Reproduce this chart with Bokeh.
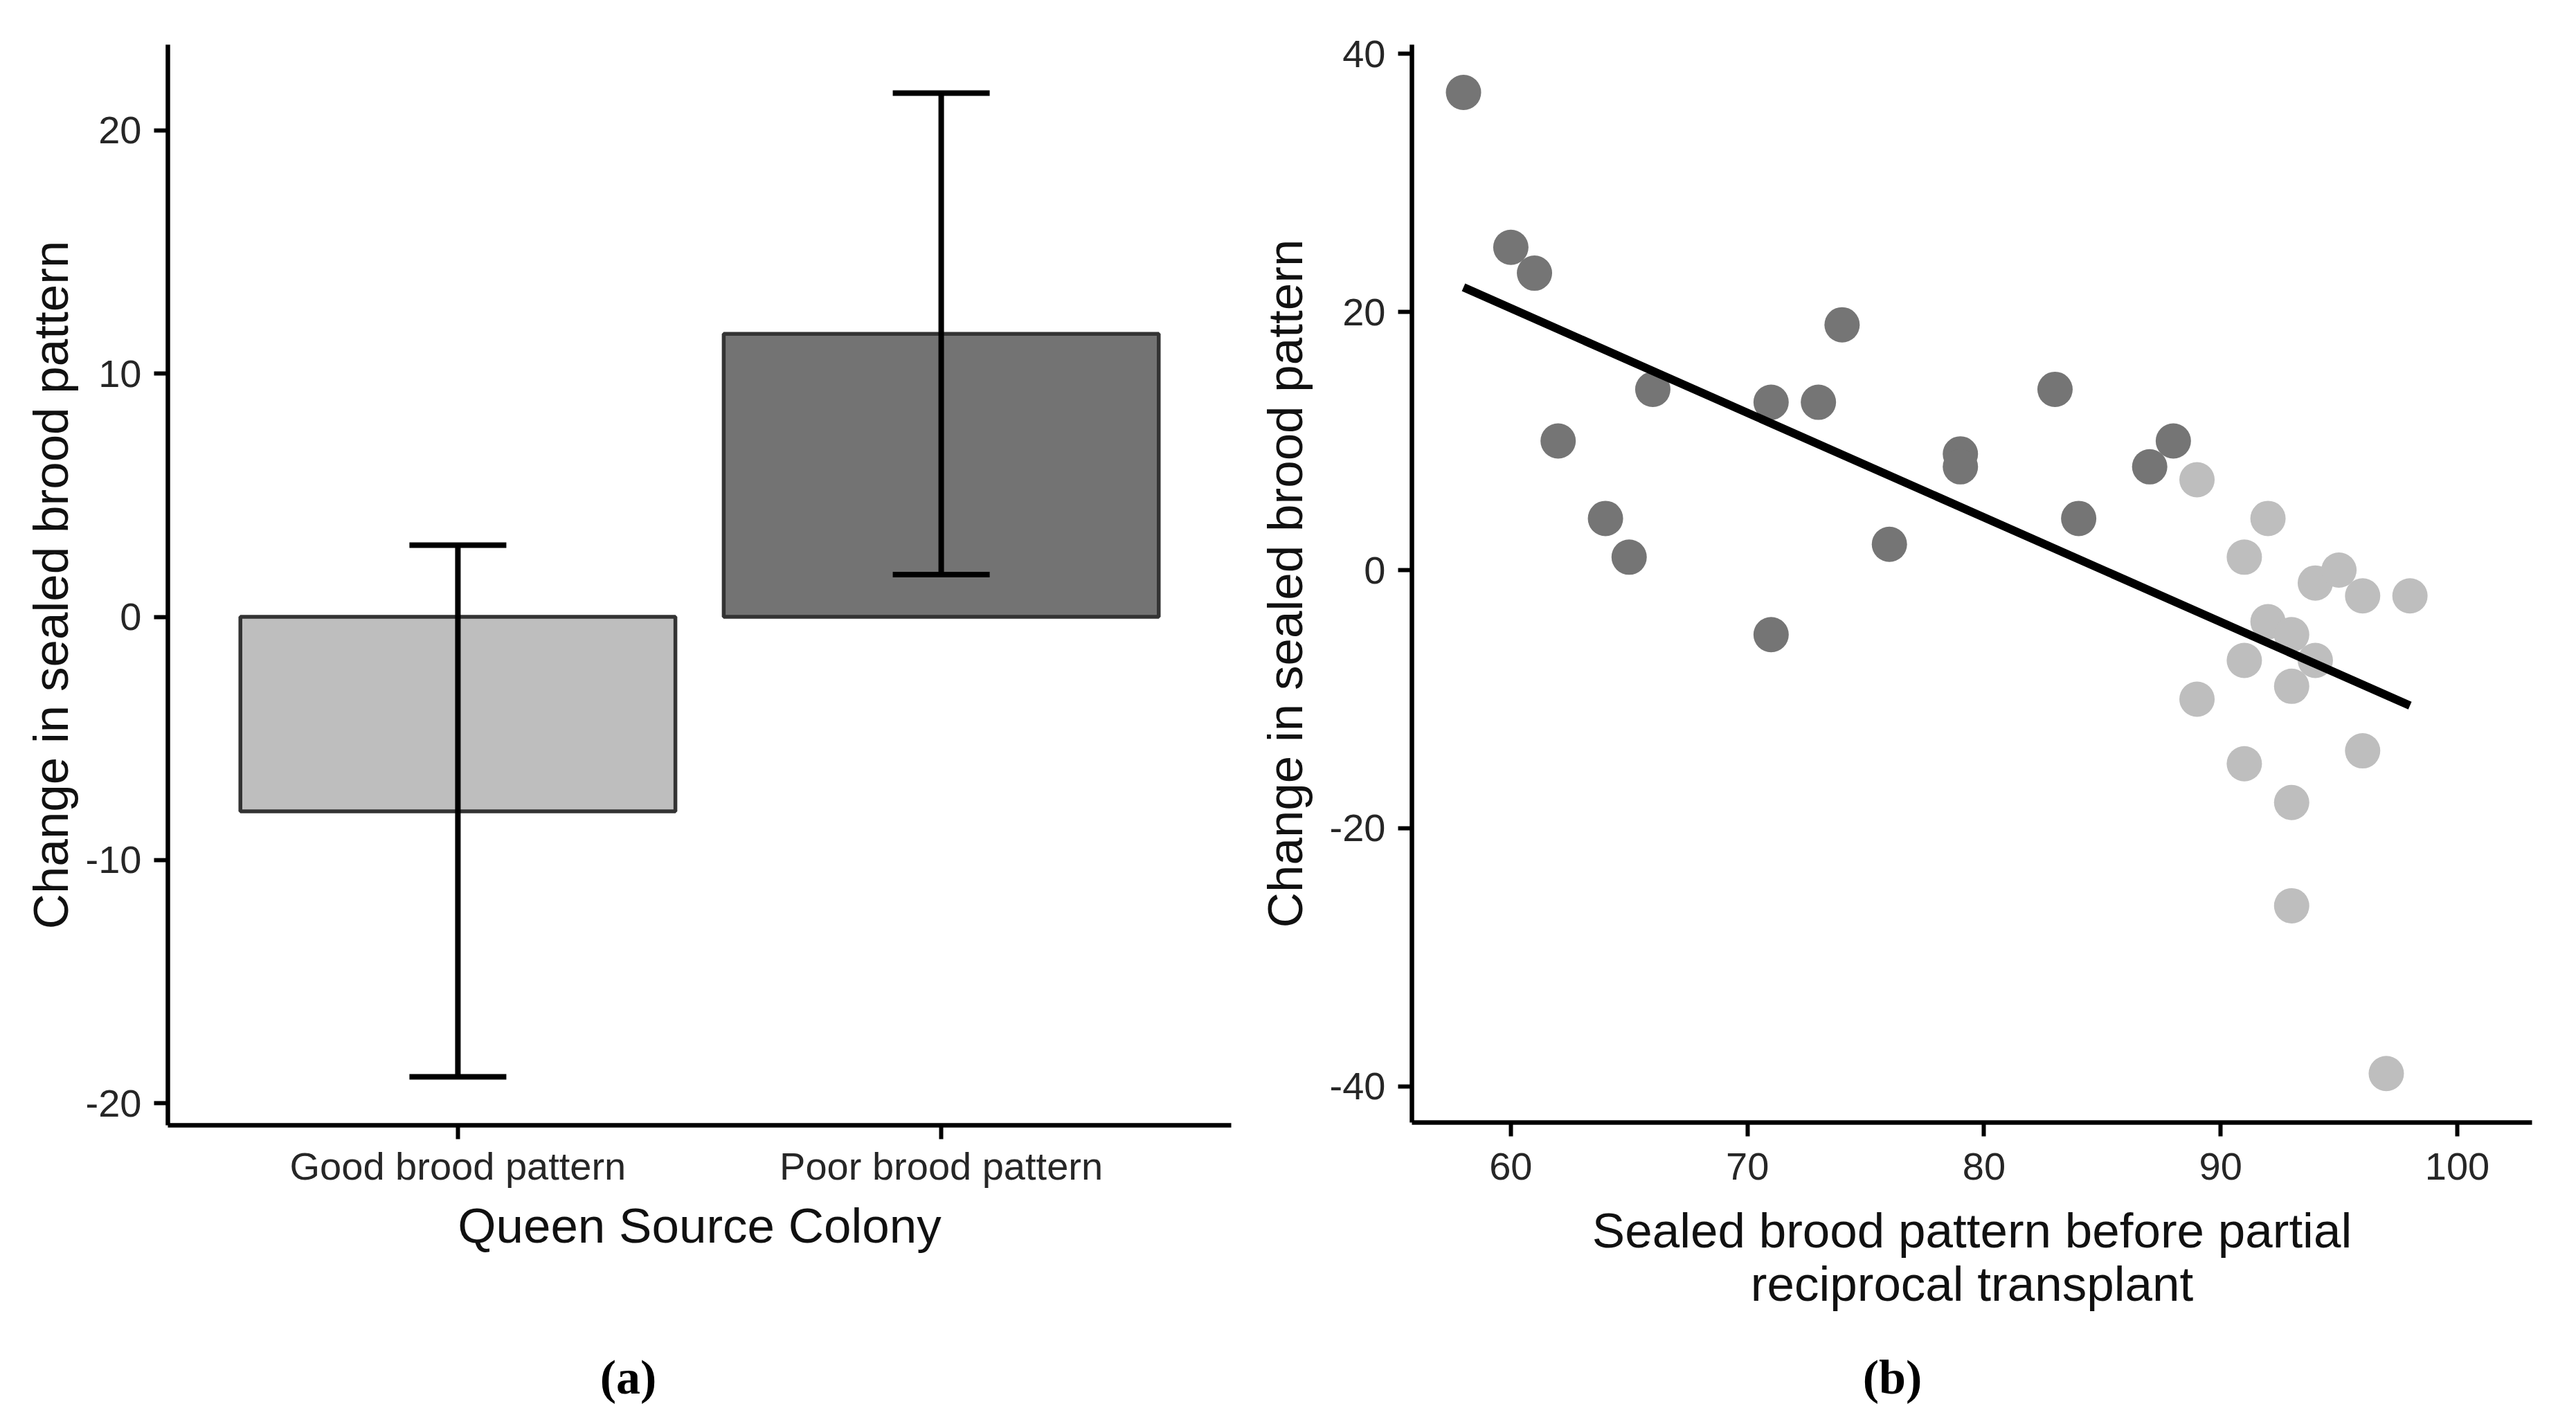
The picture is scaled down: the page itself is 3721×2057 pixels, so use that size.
from bokeh.plotting import figure
from bokeh.models import (ColumnDataSource, FactorRange, Range1d, FixedTicker,
                          Whisker, TeeHead, Label)
from bokeh.layouts import row, column
from bokeh.embed import file_html
from bokeh.resources import INLINE

# ---------------- data ----------------
categories = ["Good brood pattern", "Poor brood pattern"]
bar_means = [-8.0, 11.64]
bar_upper = [2.95, 21.54]
bar_lower = [-18.92, 1.74]
bar_colors = ["#bebebe", "#737373"]

dark_x = [58, 60, 61, 62, 64, 65, 66, 71, 71, 73, 74, 76, 79, 79, 83, 84, 87, 88]
dark_y = [37, 25, 23, 10, 4, 1, 14, 13, -5, 13, 19, 2, 9, 8, 14, 4, 8, 10]
light_x = [89, 89, 91, 91, 91, 92, 92, 93, 93, 93, 93, 94, 94, 95, 96, 96, 97, 98]
light_y = [7, -10, 1, -7, -15, 4, -4, -5, -9, -18, -26, -1, -7, 0, -2, -14, -39, -2]
fit_x = [58, 98]
fit_y = [21.9, -10.5]

left_yticks = [-20, -10, 0, 10, 20]
right_xticks = [60, 70, 80, 90, 100]
right_yticks = [-40, -20, 0, 20, 40]

FONT = "Liberation Sans"
TICK_SIZE = "56px"
TITLE_SIZE = "71px"
TICK_COLOR = "#262626"
TITLE_COLOR = "#111111"


def hyphen_labels(ticks):
    return {t: str(t) for t in ticks}


def style_axes(p):
    p.xgrid.visible = False
    p.ygrid.visible = False
    p.outline_line_color = None
    p.background_fill_color = "white"
    p.border_fill_color = "white"
    for ax in (p.xaxis[0], p.yaxis[0]):
        ax.axis_line_color = "black"
        ax.axis_line_width = 6.5
        ax.major_tick_line_color = "black"
        ax.major_tick_line_width = 6
        ax.major_tick_in = 0
        ax.major_tick_out = 20
        ax.minor_tick_line_color = None
        ax.major_label_text_font = FONT
        ax.major_label_text_font_size = TICK_SIZE
        ax.major_label_text_color = TICK_COLOR
        ax.axis_label_text_font = FONT
        ax.axis_label_text_font_size = TITLE_SIZE
        ax.axis_label_text_font_style = "normal"
        ax.axis_label_text_color = TITLE_COLOR
    p.yaxis[0].major_label_standoff = 18


# ---------------- panel (a) ----------------
src_a = ColumnDataSource(dict(cat=categories, mean=bar_means, upper=bar_upper,
                              lower=bar_lower, color=bar_colors))

pa = figure(x_range=FactorRange(*categories, range_padding=0.1,
                                range_padding_units="absolute"),
            y_range=Range1d(-20.91, 23.53),
            frame_width=1536, frame_height=1561,
            min_border_left=242, min_border_right=31,
            min_border_top=60, min_border_bottom=330,
            output_backend="svg", toolbar_location=None)
pa.vbar(x="cat", top="mean", bottom=0, width=0.9, source=src_a,
        fill_color="color", line_color="#333333", line_width=5.5)
pa.add_layout(Whisker(base="cat", upper="upper", lower="lower", source=src_a,
                      dimension="height", line_color="black", line_width=8,
                      level="overlay",
                      upper_head=TeeHead(size=140, line_width=8, line_color="black"),
                      lower_head=TeeHead(size=140, line_width=8, line_color="black")))
style_axes(pa)
pa.yaxis[0].ticker = FixedTicker(ticks=left_yticks)
pa.yaxis[0].major_label_overrides = hyphen_labels(left_yticks)
pa.xaxis[0].axis_label = "Queen Source Colony"
pa.xaxis[0].major_label_standoff = 7
pa.xaxis[0].axis_label_standoff = 12
pa.yaxis[0].axis_label = "Change in sealed brood pattern"
pa.yaxis[0].axis_label_standoff = 8

# ---------------- panel (b) ----------------
pb = figure(x_range=Range1d(55.82, 103.16), y_range=Range1d(-42.79, 40.7),
            frame_width=1618, frame_height=1557,
            min_border_left=230, min_border_right=48,
            min_border_top=64, min_border_bottom=330,
            output_backend="svg", toolbar_location=None)
pb.scatter(dark_x, dark_y, size=51, fill_color="#757575", line_color=None)
pb.scatter(light_x, light_y, size=51, fill_color="#bebebe", line_color=None)
pb.line(fit_x, fit_y, line_color="black", line_width=12)
style_axes(pb)
pb.xaxis[0].ticker = FixedTicker(ticks=right_xticks)
pb.yaxis[0].ticker = FixedTicker(ticks=right_yticks)
pb.yaxis[0].major_label_overrides = hyphen_labels(right_yticks)
pb.xaxis[0].axis_label = "Sealed brood pattern before partial\nreciprocal transplant"
pb.xaxis[0].axis_label_text_line_height = 0.98
pb.xaxis[0].major_label_standoff = 24
pb.xaxis[0].axis_label_standoff = 31
pb.yaxis[0].axis_label = "Change in sealed brood pattern"
pb.yaxis[0].axis_label_standoff = 22

# ---------------- panel captions strip ----------------
cap = figure(x_range=Range1d(0, 3705), y_range=Range1d(0, 90),
             frame_width=3705, frame_height=90, min_border=0,
             x_axis_type=None, y_axis_type=None,
             output_backend="svg", toolbar_location=None)
cap.xgrid.visible = False
cap.ygrid.visible = False
cap.outline_line_color = None
for txt, cx in (("(a)", 907), ("(b)", 2733)):
    cap.add_layout(Label(x=cx, y=52, text=txt, text_align="center",
                         text_baseline="middle", text_font="Liberation Serif",
                         text_font_size="70px", text_font_style="bold",
                         text_color="black"))

layout = column(row(pa, pb, spacing=0), cap, spacing=0)
open("out.html", "w").write(file_html(layout, INLINE))
